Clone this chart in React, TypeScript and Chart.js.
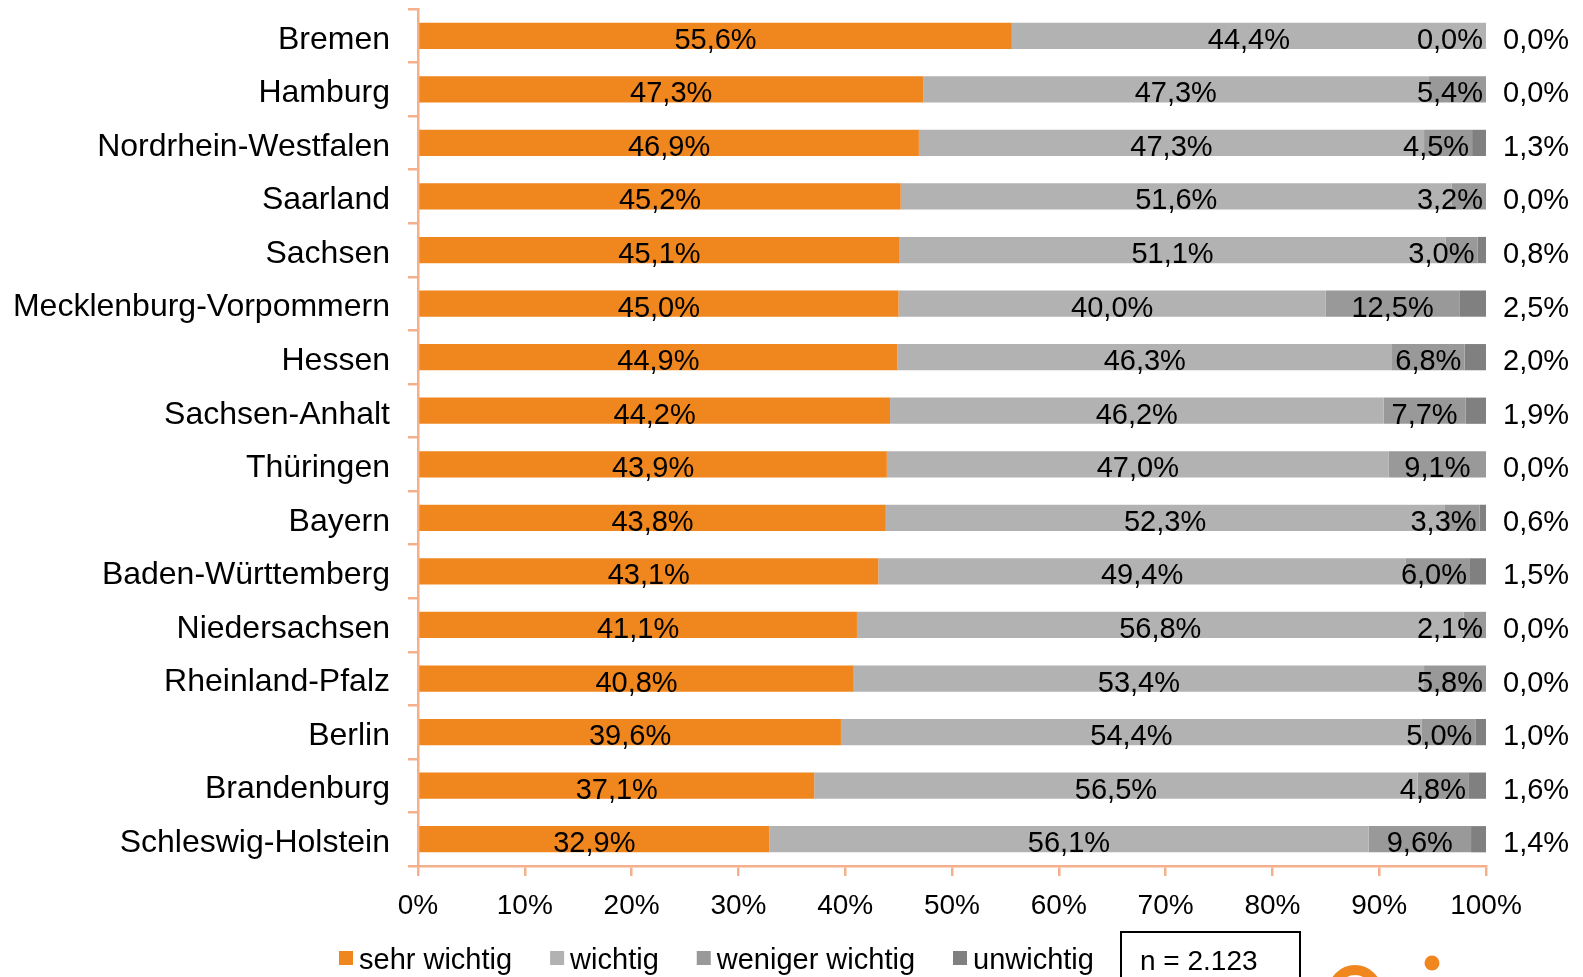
import React, { useEffect, useRef } from "react";
import { Chart, registerables } from "chart.js";

Chart.register(...registerables);

const states = [
  "Bremen", "Hamburg", "Nordrhein-Westfalen", "Saarland", "Sachsen",
  "Mecklenburg-Vorpommern", "Hessen", "Sachsen-Anhalt", "Thüringen", "Bayern",
  "Baden-Württemberg", "Niedersachsen", "Rheinland-Pfalz", "Berlin",
  "Brandenburg", "Schleswig-Holstein",
];
const sehrWichtig = [55.6, 47.3, 46.9, 45.2, 45.1, 45.0, 44.9, 44.2, 43.9, 43.8, 43.1, 41.1, 40.8, 39.6, 37.1, 32.9];
const wichtig = [44.4, 47.3, 47.3, 51.6, 51.1, 40.0, 46.3, 46.2, 47.0, 52.3, 49.4, 56.8, 53.4, 54.4, 56.5, 56.1];
const wenigerWichtig = [0.0, 5.4, 4.5, 3.2, 3.0, 12.5, 6.8, 7.7, 9.1, 3.3, 6.0, 2.1, 5.8, 5.0, 4.8, 9.6];
const unwichtig = [0.0, 0.0, 1.3, 0.0, 0.8, 2.5, 2.0, 1.9, 0.0, 0.6, 1.5, 0.0, 0.0, 1.0, 1.6, 1.4];
const seriesNames = ["sehr wichtig", "wichtig", "weniger wichtig", "unwichtig"];
const xTicks = [0, 10, 20, 30, 40, 50, 60, 70, 80, 90, 100];
const sampleNote = "n = 2.123";

const COLORS = ["#F0861E", "#B2B2B2", "#999999", "#808080"];
const AXIS = "#F4B08A";
const FONT = "'Liberation Sans', Arial, sans-serif";

const fmt = (v: number) => v.toFixed(1).replace(".", ",") + "%";

const labelPlugin = {
  id: "customLabels",
  afterDraw(chart: any) {
    const ctx = chart.ctx;
    const area = chart.chartArea;
    ctx.save();
    ctx.font = `29px ${FONT}`;
    ctx.fillStyle = "#000";
    ctx.textBaseline = "alphabetic";
    ctx.textAlign = "left";
    chart.data.datasets.forEach((ds: any, di: number) => {
      const meta = chart.getDatasetMeta(di);
      meta.data.forEach((el: any, i: number) => {
        const p = el.getProps(["x", "y", "base"], true);
        const txt = fmt(ds.data[i]);
        const w = ctx.measureText(txt).width;
        const y = p.y + 13;
        if (di === 3) {
          ctx.fillText(txt, area.right + 17, y);
          return;
        }
        const left = Math.min(p.x, p.base);
        const right = Math.max(p.x, p.base);
        let cx = (left + right) / 2;
        if (di === 2 && cx + w / 2 > right - 3) cx = right - 3 - w / 2;
        ctx.fillText(txt, cx - w / 2, y);
      });
    });

    // legend
    let x = 339;
    ctx.font = `29px ${FONT}`;
    chart.data.datasets.forEach((ds: any) => {
      ctx.fillStyle = ds.backgroundColor;
      ctx.fillRect(x, 951, 14, 14);
      ctx.fillStyle = "#000";
      ctx.fillText(ds.label, x + 20, 969);
      x += 20 + ctx.measureText(ds.label).width + 38;
    });

    // n box
    ctx.strokeStyle = "#000";
    ctx.lineWidth = 2;
    ctx.strokeRect(1121, 932, 179, 60);
    ctx.font = `28px ${FONT}`;
    ctx.fillText(sampleNote, 1140, 970);

    // logo fragment
    ctx.strokeStyle = COLORS[0];
    ctx.lineWidth = 10;
    ctx.beginPath();
    ctx.arc(1355, 992, 22, 0, Math.PI * 2);
    ctx.stroke();
    ctx.fillStyle = COLORS[0];
    ctx.beginPath();
    ctx.arc(1432, 963, 7.5, 0, Math.PI * 2);
    ctx.fill();
    ctx.restore();
  },
};

export default function App() {
  const ref = useRef<HTMLCanvasElement | null>(null);
  useEffect(() => {
    document.body.style.margin = "0";
    const values = [sehrWichtig, wichtig, wenigerWichtig, unwichtig];
    const chart = new Chart(ref.current as HTMLCanvasElement, {
      type: "bar",
      data: {
        labels: states,
        datasets: values.map((d, i) => ({
          label: seriesNames[i],
          data: d,
          backgroundColor: COLORS[i],
          borderWidth: 0,
          barPercentage: 0.49,
          categoryPercentage: 1,
        })),
      },
      options: {
        indexAxis: "y",
        responsive: false,
        animation: false,
        devicePixelRatio: 1,
        layout: { padding: { top: 9, left: 0, right: 97, bottom: 61 } },
        plugins: { legend: { display: false }, tooltip: { enabled: false } },
        scales: {
          x: {
            stacked: true,
            min: 0,
            max: 100,
            afterBuildTicks: (s: any) => {
              s.ticks = xTicks.map((v) => ({ value: v }));
            },
            afterFit: (s: any) => {
              s.height = 50;
              s.paddingLeft = 0;
              s.paddingRight = 0;
            },
            border: { color: AXIS, width: 2.5 },
            grid: { drawOnChartArea: false, color: AXIS, lineWidth: 2.5, tickLength: 10 },
            ticks: {
              color: "#000",
              font: { family: FONT, size: 28 },
              padding: 13,
              callback: (v: any) => v + "%",
              maxRotation: 0,
            },
          },
          y: {
            stacked: true,
            afterFit: (s: any) => {
              s.width = 418;
              s.paddingTop = 0;
              s.paddingBottom = 0;
            },
            border: { color: AXIS, width: 2.5 },
            grid: { drawOnChartArea: false, color: AXIS, lineWidth: 2.5, tickLength: 10, offset: true },
            ticks: {
              color: "#000",
              font: { family: FONT, size: 32 },
              padding: 18,
              labelOffset: 4,
            },
          },
        },
      },
      plugins: [labelPlugin],
    } as any);
    return () => chart.destroy();
  }, []);
  return (
    <div style={{ position: "fixed", left: 0, top: 0, width: 1583, height: 977, background: "#fff" }}>
      <canvas ref={ref} width={1583} height={977} style={{ display: "block" }} />
    </div>
  );
}
